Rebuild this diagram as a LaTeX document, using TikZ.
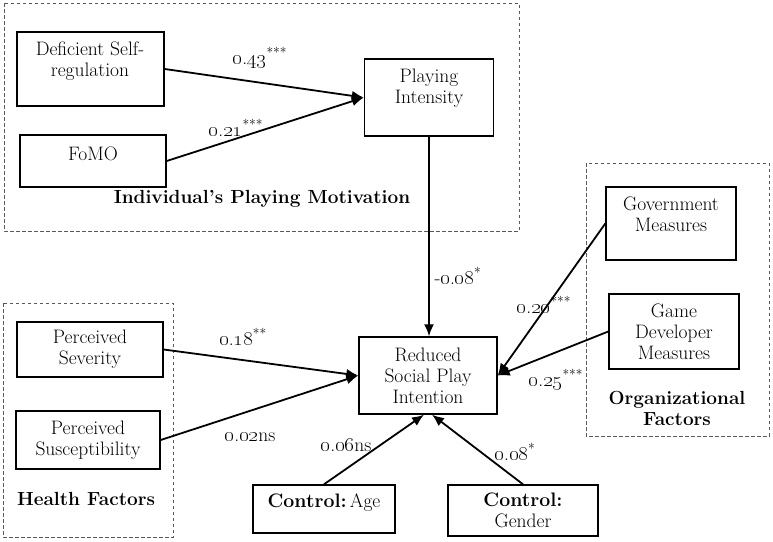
\documentclass[tikz,border=0pt]{standalone}
\usetikzlibrary{arrows.meta,calc}
\newcommand\osn[1]{\oldstylenums{#1}}
\begin{document}
\begin{tikzpicture}[x=1pt,y=-1pt,
  font=\fontsize{19.5}{21}\selectfont,
  box/.style={draw,line width=1.4pt,inner sep=0pt},
  txt/.style={align=center,inner sep=0pt},
  grp/.style={draw=black!65,line width=0.9pt,dash pattern=on 3.5pt off 2.5pt},
  arr/.style={line width=1.8pt,-{Latex[length=12pt,width=10pt]}},
  coef/.style={inner sep=0pt},
  head/.style={font=\fontsize{19}{21}\selectfont\bfseries,align=center,inner sep=0pt}]
\useasboundingbox (0,0) rectangle (773,541);

% group frames
\draw[grp] (4,3) rectangle (519,231);
\draw[grp] (3,303) rectangle (173,537);
\draw[grp] (586,163) rectangle (769,436);

% boxes
\node[box,minimum width=147pt,minimum height=74pt] (dsr) at (90.5,69) {};
\node[txt] (dsrt) at (90,61) {Deficient Self-\\regulation};
\node[box,minimum width=146pt,minimum height=52pt] (fomo) at (93,161) {};
\node[txt] (fomot) at (93,154) {FoMO};
\node[box,minimum width=129pt,minimum height=77pt] (pi) at (429,97.5) {};
\node[txt] (pit) at (429,88) {Playing\\Intensity};

\node[box,minimum width=146pt,minimum height=55pt,txt] (sev) at (90,349.5) {Perceived\\Severity};
\node[box,minimum width=144pt,minimum height=58pt,txt] (sus) at (88,440) {Perceived\\Susceptibility};

\node[box,minimum width=138pt,minimum height=77pt,txt] (red) at (428,375.5) {Reduced\\Social Play\\Intention};

\node[box,minimum width=142pt,minimum height=48pt] (age) at (324,509) {};
\node[txt] (aget) at (324,503) {\textbf{Control:}\,Age};
\node[box,minimum width=150pt,minimum height=51pt,txt] (gen) at (523,510.5) {\textbf{Control:}\\Gender};

\node[box,minimum width=130pt,minimum height=73pt] (gov) at (671,223.5) {};
\node[txt] (govt) at (671,214) {Government\\Measures};
\node[box,minimum width=130pt,minimum height=75pt,txt] (dev) at (674,331.5) {Game\\Developer\\Measures};

% headings
\node[head] (h1) at (262,199) {Individual's Playing Motivation};
\node[head] (h2) at (86,499) {Health Factors};
\node[head] (h3) at (677,408) {Organizational\\Factors};

% connectors
\draw[arr] (dsr.east) -- (pi.west);
\draw[arr] (fomo.east) -- (pi.west);
\draw[arr] (pi.south) -- (pi.south |- red.north);
\draw[arr] (sev.east) -- (red.west);
\draw[arr] (sus.east) -- (red.west);
\draw[arr] (gov.west) -- (red.east);
\draw[arr] (dev.west) -- (red.east);
\draw[arr] (age.north) -- ($(red.south)+(-4,0)$);
\draw[arr] (gen.north) -- ($(red.south)+(4,0)$);

% coefficients
\node[coef] (c1) at (260,58) {\osn{0}.\osn{43}\textsuperscript{***}};
\node[coef] (c2) at (236,128) {\osn{0}.\osn{21}\textsuperscript{***}};
\node[coef] (c3) at (458,276) {-\osn{0}.\osn{08}\textsuperscript{*}};
\node[coef] (c4) at (243,337) {\osn{0}.\osn{18}\textsuperscript{**}};
\node[coef] (c5) at (250,437) {\osn{0}.\osn{02}ns};
\node[coef] (c6) at (346,445) {\osn{0}.\osn{06}ns};
\node[coef] (c7) at (515,452) {\osn{0}.\osn{08}\textsuperscript{*}};
\node[coef] (c8) at (544,305) {\osn{0}.\osn{20}\textsuperscript{***}};
\node[coef] (c9) at (556,380) {\osn{0}.\osn{25}\textsuperscript{***}};
\end{tikzpicture}
\end{document}
